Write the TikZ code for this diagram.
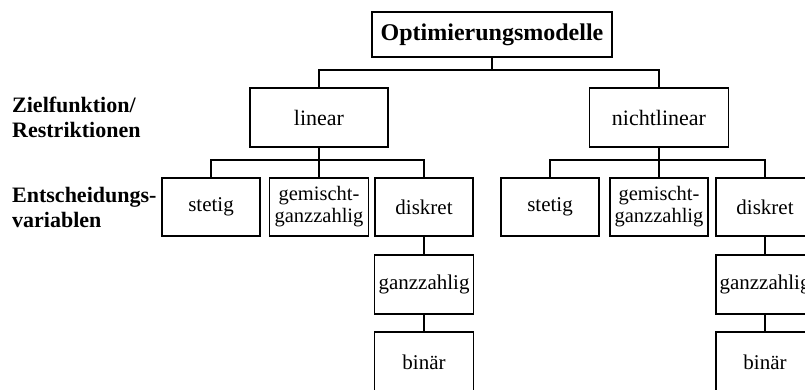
\documentclass[tikz,border=0pt]{standalone}
\usepackage{fontspec}
\setmainfont{Liberation Serif}
\begin{document}
\begin{tikzpicture}[x=1pt,y=-1pt,
  box/.style={draw,line width=1.7pt,rectangle,inner sep=0pt,align=center,
    font=\fontsize{21}{22}\selectfont},
  lbl/.style={inner sep=0pt,align=left,anchor=north west,
    font=\fontsize{22}{25}\selectfont\bfseries},
  conn/.style={line width=1.7pt}]
\useasboundingbox (0,0) rectangle (805,390);
\clip (0,0) rectangle (805,390);
% top
\node[box,minimum width=240pt,minimum height=45pt,font=\fontsize{24}{26}\selectfont\bfseries] (top) at (492,34.5) {Optimierungsmodelle};
% level 2
\node[box,minimum width=138pt,minimum height=59pt,font=\fontsize{22}{24}\selectfont] (lin) at (319,117.5) {linear};
\node[box,minimum width=139pt,minimum height=59pt,font=\fontsize{22}{24}\selectfont] (nlin) at (659,117.5) {nichtlinear};
% level 3 left
\node[box,minimum width=98pt,minimum height=58pt] (ls) at (211,207) {stetig};
\node[box,minimum width=99pt,minimum height=58pt,font=\fontsize{20.5}{22}\selectfont] (lg) at (319,207) {gemischt-\\ganzzahlig};
\node[box,minimum width=98pt,minimum height=58pt] (ld) at (424,207) {diskret};
\node[box,minimum width=99pt,minimum height=59pt] (lz) at (424,284.5) {ganzzahlig};
\node[box,minimum width=99pt,minimum height=60pt] (lb) at (424,362) {binär};
% level 3 right
\node[box,minimum width=98pt,minimum height=58pt] (rs) at (550,207) {stetig};
\node[box,minimum width=98pt,minimum height=58pt,font=\fontsize{20.5}{22}\selectfont] (rg) at (659,207) {gemischt-\\ganzzahlig};
\node[box,minimum width=98pt,minimum height=58pt] (rd) at (765,207) {diskret};
\node[box,minimum width=98pt,minimum height=59pt] (rz) at (765,284.5) {ganzzahlig};
\node[box,minimum width=98pt,minimum height=60pt] (rb) at (765,362) {binär};
% labels
\node[lbl] (l1) at (12,97) {Zielfunktion/\\Restriktionen};
\node[lbl] (l2) at (12,187) {Entscheidungs-\\variablen};
% connectors
\draw[conn] (top.south) -- ++(0,12) -| (lin.north);
\draw[conn] (top.south) -- ++(0,12) -| (nlin.north);
\draw[conn] (lin.south) -- ++(0,12) -| (ls.north);
\draw[conn] (lin.south) -- (lg.north);
\draw[conn] (lin.south) -- ++(0,12) -| (ld.north);
\draw[conn] (nlin.south) -- ++(0,12) -| (rs.north);
\draw[conn] (nlin.south) -- (rg.north);
\draw[conn] (nlin.south) -- ++(0,12) -| (rd.north);
\draw[conn] (ld.south) -- (lz.north);
\draw[conn] (lz.south) -- (lb.north);
\draw[conn] (rd.south) -- (rz.north);
\draw[conn] (rz.south) -- (rb.north);
\end{tikzpicture}
\end{document}
